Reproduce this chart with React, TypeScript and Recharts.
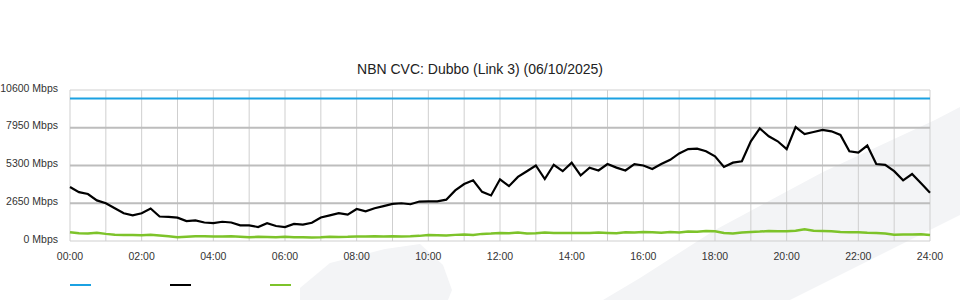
import { Line, LineChart, ReferenceLine, XAxis, YAxis } from 'recharts'

// 15-minute samples, 00:00 -> 24:00
const hours = Array.from({ length: 97 }, (_, i) => i / 4)

const capacityMbps = 10000

const throughputMbps = [
  3790, 3430, 3300, 2850, 2650, 2300, 1950, 1800,
  1950, 2280, 1720, 1700, 1640, 1400, 1450, 1300,
  1250, 1350, 1300, 1100, 1100, 980, 1250, 1050,
  980, 1200, 1150, 1280, 1650, 1800, 1950, 1850,
  2250, 2080, 2300, 2450, 2600, 2650, 2580, 2770,
  2780, 2780, 2900, 3550, 4000, 4260, 3450, 3200,
  4330, 3850, 4500, 4900, 5300, 4350, 5350, 4900,
  5500, 4600, 5150, 4950, 5400, 5150, 4950, 5400,
  5300, 5050, 5400, 5700, 6150, 6450, 6480, 6300,
  5950, 5200, 5500, 5600, 7000, 7900, 7350, 7000,
  6450, 8000, 7500, 7650, 7800, 7700, 7450, 6300,
  6200, 6700, 5400, 5350, 4900, 4260, 4700, 4050,
  3390,
]

const otherMbps = [
  620, 540, 520, 580, 500, 440, 420, 420,
  400, 430, 380, 330, 260, 300, 330, 340,
  320, 310, 330, 290, 260, 290, 280, 270,
  290, 260, 270, 250, 260, 300, 280, 290,
  320, 310, 330, 320, 340, 320, 330, 360,
  420, 400, 380, 430, 460, 430, 500, 520,
  560, 540, 590, 520, 540, 590, 560, 570,
  560, 570, 560, 590, 570, 540, 620, 600,
  640, 620, 580, 640, 600, 660, 650, 700,
  690, 560, 520, 600, 640, 660, 700, 690,
  680, 720, 830, 720, 700, 680, 640, 620,
  620, 580, 560, 520, 440, 450, 460, 480,
  420,
]

const yTicks = [0, 2650, 5300, 7950, 10600]
const xTicks = [0, 2, 4, 6, 8, 10, 12, 14, 16, 18, 20, 22, 24]
const gridHours = Array.from({ length: 25 }, (_, h) => h)

const BLUE = '#1ba1e2'
const GREEN = '#7dc32a'
const FONT = '"Liberation Sans", Arial, sans-serif'
const tickStyle = { fill: '#333', fontSize: 10.5, fontFamily: FONT }

const rows = hours.map((t, i) => ({
  t,
  capacity: capacityMbps,
  throughput: throughputMbps[i],
  other: otherMbps[i],
}))

const pad = (h: number) => `${String(h).padStart(2, '0')}:00`

// plain svg text so the label doesn't get word-wrapped
function MbpsTick({ x, y, payload }: any) {
  return (
    <text x={x - 2} y={y - 2} dy="0.355em" textAnchor="end" fill="#333" fontSize={10.5} fontFamily={FONT}>
      {`${payload.value} Mbps`}
    </text>
  )
}

export default function App() {
  return (
    <div style={{ position: 'fixed', left: 0, top: 0, width: 960, height: 300, background: '#fff', fontFamily: FONT }}>
      {/* faint background watermark */}
      <svg width={960} height={300} style={{ position: 'absolute', left: 0, top: 0 }}>
        <polygon points="603,300 640,278 715,230 823,172 935,120 960,107 960,215 790,300" fill="#f3f4f6" />
        <polygon points="300,300 300,288 330,263 385,249 420,244 443,265 452,290 448,300" fill="#f3f4f6" />
      </svg>

      <div style={{ position: 'absolute', left: 0, top: 61, width: 960, textAlign: 'center', fontSize: 14, color: '#222' }}>
        NBN CVC: Dubbo (Link 3) (06/10/2025)
      </div>

      <div style={{ position: 'absolute', left: 0, top: 0 }}>
        <LineChart width={960} height={300} data={rows} margin={{ top: 90, right: 30, bottom: 29, left: 0 }}>
          <XAxis
            dataKey="t"
            type="number"
            domain={[0, 24]}
            ticks={xTicks}
            tickFormatter={pad}
            axisLine={false}
            tickLine={false}
            tickMargin={6}
            interval={0}
            height={30}
            tick={tickStyle}
          />
          <YAxis
            domain={[0, 10600]}
            ticks={yTicks}
            axisLine={false}
            tickLine={false}
            tickMargin={4}
            width={70}
            interval={0}
            tick={<MbpsTick />}
          />

          {/* grid */}
          {gridHours.map((h) => (
            <ReferenceLine key={`v${h}`} x={h} stroke="#cfcfcf" strokeWidth={1} />
          ))}
          <ReferenceLine y={0} stroke="#cfcfcf" />
          <ReferenceLine y={10600} stroke="#cfcfcf" />
          {yTicks.slice(1, 4).map((v) => (
            <ReferenceLine key={`h${v}`} y={v} stroke="#bdbdbd" strokeWidth={2} />
          ))}

          <Line dataKey="capacity" stroke={BLUE} strokeWidth={2} dot={false} isAnimationActive={false} />
          <Line dataKey="other" type="linear" stroke={GREEN} strokeWidth={2.5} dot={false} isAnimationActive={false} />
          <Line dataKey="throughput" type="linear" stroke="#000" strokeWidth={2.2} dot={false} isAnimationActive={false} />
        </LineChart>
      </div>

      {/* legend: swatches only */}
      {[BLUE, '#000', GREEN].map((c, i) => (
        <div key={c} style={{ position: 'absolute', left: 70 + i * 100, top: 284, width: 21, height: 2, background: c }} />
      ))}
    </div>
  )
}
